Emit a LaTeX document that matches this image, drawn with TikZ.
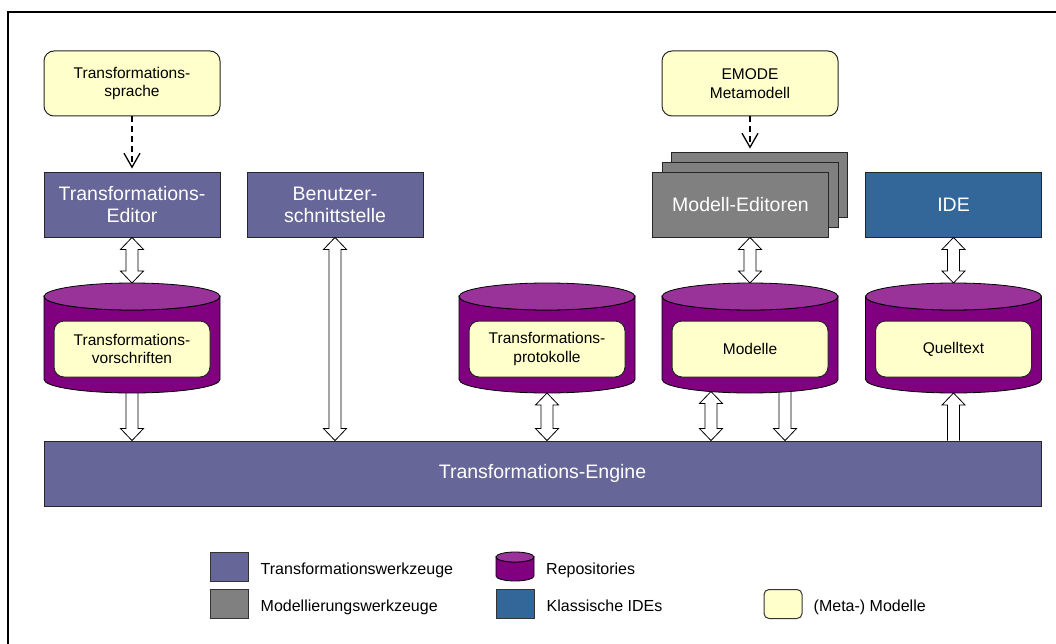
\documentclass[tikz,border=0pt]{standalone}
\usepackage{fontspec}
\setmainfont{Liberation Sans}
\usepackage{tikz}
\usetikzlibrary{arrows.meta,positioning,calc}
\definecolor{twblue}{RGB}{102,102,153}
\definecolor{mwgray}{RGB}{128,128,128}
\definecolor{ideblue}{RGB}{51,102,153}
\definecolor{repbody}{RGB}{128,0,128}
\definecolor{reptop}{RGB}{153,51,153}
\definecolor{modyel}{RGB}{255,255,204}
% cylinder around an empty node: name, x radius, y radius
\newcommand{\repo}[3]{%
  \draw[fill=repbody, line width=0.8pt] ([yshift=-#3pt]#1.north west) -- ([yshift=#3pt]#1.south west)
    arc[start angle=180, end angle=360, x radius=#2pt, y radius=#3pt]
    -- ([yshift=-#3pt]#1.north east)
    arc[start angle=0, end angle=-180, x radius=#2pt, y radius=#3pt] -- cycle;
  \draw[fill=reptop, line width=0.8pt] ([yshift=-#3pt]#1.north) ellipse[x radius=#2pt, y radius=#3pt]}
% hollow block arrows, #1 upper end, #2 lower end
\newcommand{\dblarr}[2]{%
  \draw[fat] let \p1=#1, \p2=#2 in
    (\x1,\y1) -- (\x1+11.5,\y1-12) -- (\x1+6,\y1-12) -- (\x1+6,\y2+12)
    -- (\x1+11.5,\y2+12) -- (\x1,\y2) -- (\x1-11.5,\y2+12) -- (\x1-6,\y2+12)
    -- (\x1-6,\y1-12) -- (\x1-11.5,\y1-12) -- cycle}
\newcommand{\downarr}[2]{%
  \fill[white] let \p1=#1, \p2=#2 in
    (\x1-6,\y1+3) -- (\x1+6,\y1+3) -- (\x1+6,\y2+12) -- (\x1+11.5,\y2+12)
    -- (\x1,\y2) -- (\x1-11.5,\y2+12) -- (\x1-6,\y2+12) -- cycle;
  \draw[fat] let \p1=#1, \p2=#2 in
    (\x1+6,\y1+3) -- (\x1+6,\y2+12) -- (\x1+11.5,\y2+12)
    -- (\x1,\y2) -- (\x1-11.5,\y2+12) -- (\x1-6,\y2+12) -- (\x1-6,\y1+3)}
\newcommand{\uparr}[2]{%
  \fill[white] let \p1=#1, \p2=#2 in
    (\x1,\y1) -- (\x1+11.5,\y1-12) -- (\x1+6,\y1-12) -- (\x1+6,\y2)
    -- (\x1-6,\y2) -- (\x1-6,\y1-12) -- (\x1-11.5,\y1-12) -- cycle;
  \draw[fat] let \p1=#1, \p2=#2 in
    (\x1+6,\y2) -- (\x1+6,\y1-12) -- (\x1+11.5,\y1-12) -- (\x1,\y1)
    -- (\x1-11.5,\y1-12) -- (\x1-6,\y1-12) -- (\x1-6,\y2)}

\begin{document}
\begin{tikzpicture}[x=1pt, y=1pt,
  tool/.style={draw=black!85, line width=0.9pt, fill=twblue, text=white, align=center,
               minimum width=176pt, minimum height=65pt, inner sep=0pt,
               font=\fontsize{19.5}{22}\selectfont},
  mtool/.style={tool, fill=mwgray},
  idetool/.style={tool, fill=ideblue},
  model/.style={draw=black!85, line width=1pt, fill=modyel, rounded corners=10pt, align=center,
                minimum width=176pt, minimum height=65pt, inner sep=0pt,
                font=\fontsize{15.5}{18.5}\selectfont},
  inbox/.style={model, minimum width=156pt, minimum height=56pt},
  cylbox/.style={minimum width=176pt, minimum height=110pt, inner sep=0pt, outer sep=0pt},
  fat/.style={draw=black, line width=0.8pt, fill=white},
  dasharr/.style={line width=1.3pt, dash pattern=on 6pt off 4pt, shorten >=3pt,
                  -{Straight Barb[length=14pt, width=16pt]}},
  legbox/.style={draw=black!80, line width=1pt, minimum width=38pt, minimum height=29pt,
                 inner sep=0pt},
  legtext/.style={inner sep=0pt, text height=11.5pt, text depth=3.4pt, yshift=-3.5pt,
                  font=\fontsize{16}{18}\selectfont}]
\useasboundingbox (0,0) rectangle (1056,-644);
\draw[line width=2pt] (8,-644) -- (8,-12) -- (1056,-12);

% sprachen / metamodelle
\node[model] (lang) at (132,-83.5) {Transformations-\\sprache};
\node[model] (emode) at (750,-83.5) {EMODE\\Metamodell};

% werkzeuge
\node[tool] (edit) at (132,-204.5) {Transformations-\\Editor};
\node[tool] (user) at (335,-204.5) {Benutzer-\\schnittstelle};
\node[mtool] (ed3) at (759.5,-184.5) {};
\node[mtool] (ed2) at (750,-194.5) {};
\node[mtool] (ed1) at (740.5,-204.5) {Modell-Editoren};
\node[idetool] (ide) at (953.5,-204.5) {IDE};
\node[tool, minimum width=997pt] (eng) at (542.5,-473.5) {Transformations-Engine};

% repositories
\node[cylbox] (rep1) at (132,-338) {};
\node[cylbox] (rep2) at (547,-338) {};
\node[cylbox] (rep3) at (750,-338) {};
\node[cylbox] (rep4) at (953.5,-338) {};

\draw[dasharr] (lang) -- (edit);
\draw[dasharr] (emode) -- (emode.south |- ed3.north);

\dblarr{(edit.south)}{(rep1.north)};
\dblarr{(user.south)}{(eng.north)};
\downarr{(rep1.south)}{(eng.north)};
\dblarr{(rep2.south)}{(eng.north)};
\dblarr{(rep3.north |- ed1.south)}{(rep3.north)};
\dblarr{([xshift=-39pt, yshift=1.5pt]rep3.south)}{(eng.north)};
\downarr{([xshift=35pt]rep3.south)}{(eng.north)};
\dblarr{(ide.south)}{(rep4.north)};
\uparr{(rep4.south)}{(eng.north)};

\repo{rep1}{88}{13.5};
\repo{rep2}{88}{13.5};
\repo{rep3}{88}{13.5};
\repo{rep4}{88}{13.5};
\node[inbox] (vor) at ([yshift=-11pt]rep1.center) {Transformations-\\vorschriften};
\node[inbox] (prot) at ([yshift=-11pt]rep2.center) {Transformations-\\protokolle};
\node[inbox] (mod) at ([yshift=-11pt]rep3.center) {Modelle};
\node[inbox] (src) at ([yshift=-11pt]rep4.center) {Quelltext};

% legende
\node[legbox, fill=twblue] (k1) at (229,-566.5) {};
\node[legtext, right=12pt of k1] (t1) {Transformationswerkzeuge};
\node[legbox, fill=mwgray] (k2) at (229,-604) {};
\node[legtext, right=12pt of k2] (t2) {Modellierungswerkzeuge};
\node[inner sep=0pt, outer sep=0pt, minimum width=38pt, minimum height=29pt] (k3) at (515,-566.5) {};
\repo{k3}{19}{5};
\node[legtext, right=12pt of k3] (t3) {Repositories};
\node[legbox, fill=ideblue] (k4) at (515,-604) {};
\node[legtext, right=12pt of k4] (t4) {Klassische IDEs};
\node[legbox, fill=modyel, rounded corners=5pt] (k5) at (783,-604) {};
\node[legtext, right=11pt of k5] (t5) {(Meta-) Modelle};
\end{tikzpicture}
\end{document}
